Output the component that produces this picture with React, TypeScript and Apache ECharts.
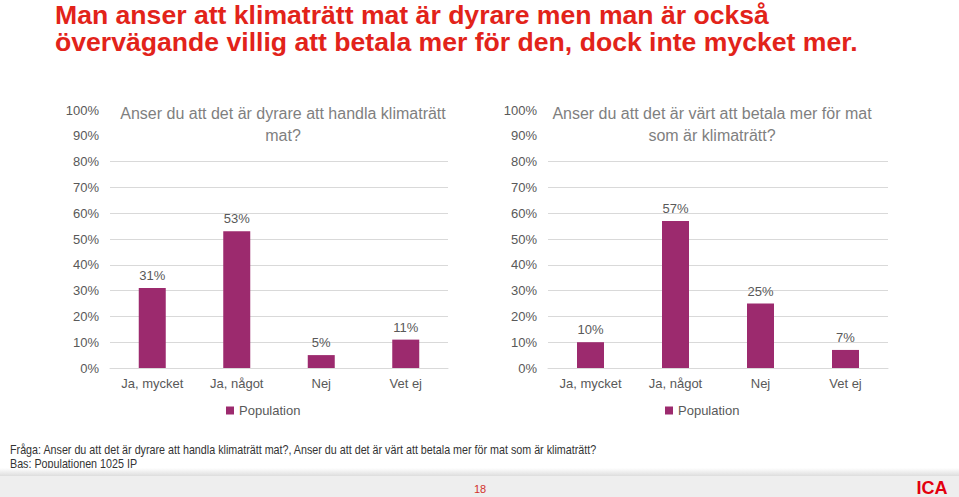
import React, { useEffect, useRef } from "react";
import * as echarts from "echarts";

const categories = ["Ja, mycket", "Ja, något", "Nej", "Vet ej"];
const dyrareValues = [31, 53, 5, 11];
const vartValues = [10, 57, 25, 7];
const seriesName = "Population";
const mainTitle = "Man anser att klimaträtt mat är dyrare men man är också\növervägande villig att betala mer för den, dock inte mycket mer.";
const chartTitle1 = "Anser du att det är dyrare att handla klimaträtt\nmat?";
const chartTitle2 = "Anser du att det är värt att betala mer för mat\nsom är klimaträtt?";
const footnote1 = "Fråga: Anser du att det är dyrare att handla klimaträtt mat?, Anser du att det är värt att betala mer för mat som är klimaträtt?";
const footnote2 = "Bas: Populationen 1025 IP";
const pageNumber = "18";

const BAR = "#9C2A6E";
const Y_MAX = 100;
const GRIDLINE_MAX = 80;

export default function App() {
  const ref = useRef<HTMLDivElement>(null);
  useEffect(() => {
    if (!ref.current) return;
    const chart = echarts.init(ref.current, null, { renderer: "svg" });
    const font = "'Liberation Sans', Arial, sans-serif";
    const PLOT_TOP = 110;
    const PLOT_H = 258;
    const gl = PLOT_H * (GRIDLINE_MAX / Y_MAX);
    const yAxis = (gridIndex: number) => ({
      type: "value",
      gridIndex,
      min: 0,
      max: Y_MAX,
      interval: 10,
      axisLabel: { formatter: "{value}%", color: "#595959", fontSize: 13, margin: 11, fontFamily: font },
      axisLine: { show: false },
      axisTick: { show: false },
      splitLine: { show: false },
    });
    const yGridAxis = (gridIndex: number) => ({
      type: "value",
      gridIndex,
      min: 0,
      max: GRIDLINE_MAX,
      interval: 10,
      axisLabel: { show: false },
      axisLine: { show: false },
      axisTick: { show: false },
      splitLine: { show: true, lineStyle: { color: "#d9d9d9", width: 1 } },
    });
    const xAxis = (gridIndex: number) => ({
      type: "category",
      gridIndex,
      data: categories,
      axisLabel: { color: "#595959", fontSize: 13, margin: 9, fontFamily: font },
      axisLine: { lineStyle: { color: "#d9d9d9" } },
      axisTick: { show: false },
    });
    const xGridAxis = (gridIndex: number) => ({
      type: "category",
      gridIndex,
      data: categories,
      show: false,
    });
    const bar = (i: number, data: number[]) => ({
      type: "bar",
      name: seriesName,
      xAxisIndex: i,
      yAxisIndex: i,
      data,
      barWidth: 27,
      z: 5,
      itemStyle: { color: BAR },
      label: {
        show: true,
        position: "top",
        distance: 6,
        formatter: "{c}%",
        color: "#595959",
        fontSize: 13,
        fontFamily: font,
      },
    });
    const chartTitleStyle = {
      color: "#7f7f7f",
      fontSize: 16,
      fontWeight: "normal",
      lineHeight: 22,
      fontFamily: font,
      align: "center",
    };
    chart.setOption({
      animation: false,
      backgroundColor: "#ffffff",
      title: [
        {
          text: mainTitle,
          left: 55,
          top: 1,
          padding: 0,
          textStyle: { color: "#E2231A", fontSize: 26.6, fontWeight: "bold", lineHeight: 27, fontFamily: font },
        },
        {
          text: chartTitle1,
          left: 283,
          top: 102,
          padding: 0,
          textAlign: "center",
          textStyle: chartTitleStyle,
        },
        {
          text: chartTitle2,
          left: 712,
          top: 102,
          padding: 0,
          textAlign: "center",
          textStyle: chartTitleStyle,
        },
      ],
      legend: [
        {
          data: [seriesName],
          left: 226,
          top: 404,
          icon: "rect",
          itemWidth: 8,
          itemHeight: 8,
          padding: 0,
          textStyle: { color: "#595959", fontSize: 13, fontFamily: font },
          selectedMode: false,
        },
        {
          data: [seriesName],
          left: 665,
          top: 404,
          icon: "rect",
          itemWidth: 8,
          itemHeight: 8,
          padding: 0,
          textStyle: { color: "#595959", fontSize: 13, fontFamily: font },
          selectedMode: false,
        },
      ],
      grid: [
        { left: 110, top: PLOT_TOP, width: 338, height: PLOT_H },
        { left: 548, top: PLOT_TOP, width: 340, height: PLOT_H },
        { left: 110, top: PLOT_TOP + PLOT_H - gl, width: 338, height: gl },
        { left: 548, top: PLOT_TOP + PLOT_H - gl, width: 340, height: gl },
      ],
      xAxis: [xAxis(0), xAxis(1), xGridAxis(2), xGridAxis(3)],
      yAxis: [yAxis(0), yAxis(1), yGridAxis(2), yGridAxis(3)],
      series: [bar(0, dyrareValues), bar(1, vartValues)],
      graphic: [
        {
          type: "text",
          x: 10,
          y: 444,
          scaleX: 0.895,
          style: { text: footnote1, fill: "#333333", fontSize: 12, fontFamily: font },
        },
        {
          type: "text",
          x: 10,
          y: 458,
          scaleX: 0.895,
          style: { text: footnote2, fill: "#333333", fontSize: 12, fontFamily: font },
        },
        {
          type: "rect",
          shape: { x: 0, y: 468, width: 959, height: 8 },
          style: {
            fill: new echarts.graphic.LinearGradient(0, 0, 0, 1, [
              { offset: 0, color: "#ffffff" },
              { offset: 1, color: "#dddddd" },
            ]),
          },
          silent: true,
        },
        {
          type: "rect",
          shape: { x: 0, y: 476, width: 959, height: 21 },
          style: { fill: "#eeeeee" },
          silent: true,
        },
        {
          type: "text",
          x: 480,
          y: 489,
          style: { text: pageNumber, fill: "#D2312B", fontSize: 11, fontFamily: font, align: "center", verticalAlign: "middle" },
        },
        {
          type: "text",
          x: 932,
          y: 487,
          scaleX: 0.95,
          style: { text: "ICA", fill: "#E3000F", fontSize: 19, fontWeight: 900, fontFamily: font, align: "center", verticalAlign: "middle" },
        },
      ],
    });
    return () => chart.dispose();
  }, []);
  return <div ref={ref} style={{ position: "fixed", left: 0, top: 0, width: 959, height: 497 }} />;
}
